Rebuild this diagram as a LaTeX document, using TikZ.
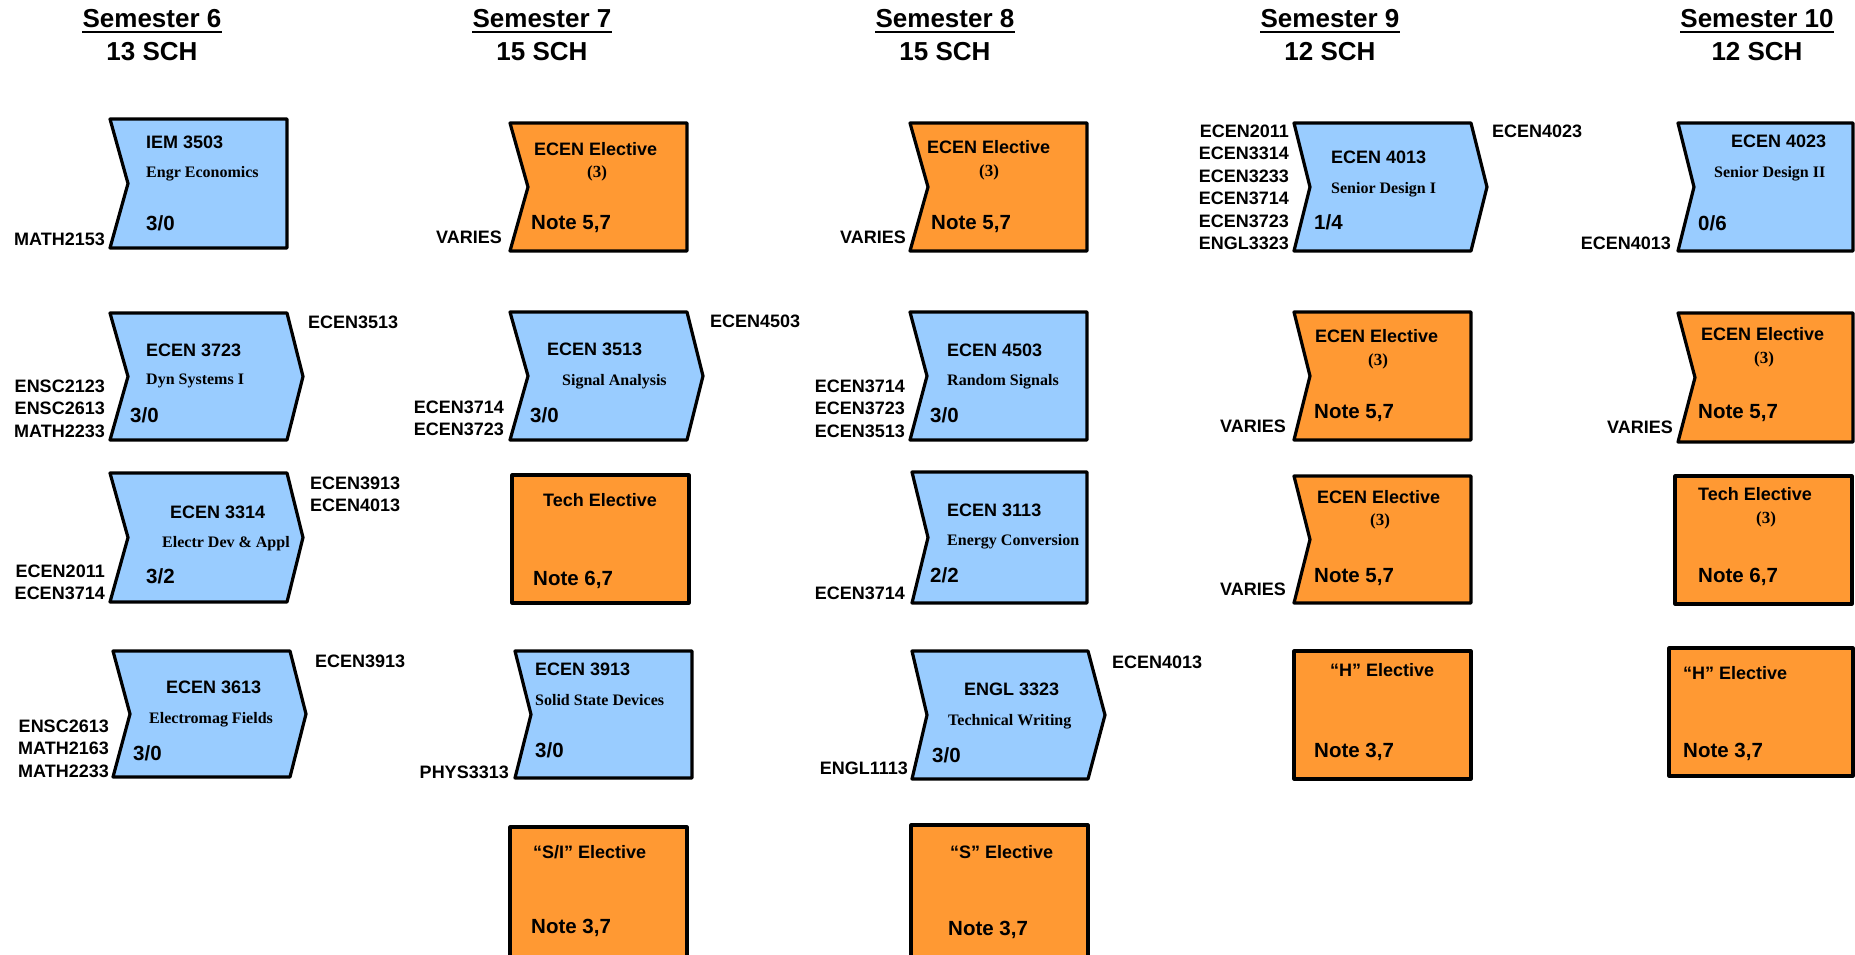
\documentclass[tikz,border=0pt]{standalone}
\usepackage{fontspec}
\setmainfont{Liberation Sans}
\newfontfamily\serifb{Liberation Serif}
\definecolor{cblue}{HTML}{99CCFF}
\definecolor{corange}{HTML}{FF9933}
\tikzset{
  boxline/.style={draw=black, line width=3.2pt, line join=round},
  txtlab/.style={font=\fontsize{18}{22}\selectfont\bfseries, inner sep=0pt},
  txtdesc/.style={font=\serifb\fontsize{16}{18}\selectfont\bfseries, inner sep=0pt},
  txtcr/.style={font=\serifb\fontsize{17}{19}\selectfont\bfseries, inner sep=0pt},
  txthrs/.style={font=\fontsize{20.5}{24}\selectfont\bfseries, inner sep=0pt},
  txttitle/.style={font=\fontsize{26}{30}\selectfont\bfseries, inner sep=0pt},
}
% name, x1, y1, x2, y2, notch, tip, colour
\newcommand\cbox[8]{%
  \path[boxline, fill=#8] (#2,#3) -- (#4,#3) -- ({#4+#7},{(#3+#5)/2}) -- (#4,#5) -- (#2,#5) -- ({#2+#6},{(#3+#5)/2}) -- cycle;
  \coordinate (#1) at ({(#2+#4)/2},{(#3+#5)/2});}
% prefix, x, first baseline, list
\newcommand\prereqs[4]{%
  \foreach \t [count=\i] in {#4} \node[txtlab, anchor=base east] (#1-\i) at (#2,{#3+22.5*(\i-1)}) {\t};}
\newcommand\postreqs[4]{%
  \foreach \t [count=\i] in {#4} \node[txtlab, anchor=base west] (#1-\i) at (#2,{#3+22.5*(\i-1)}) {\t};}
% prefix, centre x, semester, SCH
\newcommand\semtitle[4]{%
  \node[txttitle, anchor=base] (#1) at (#2,27) {Semester #3};
  \draw[line width=2pt] ([yshift=-5pt]#1.base west) -- ([yshift=-5pt]#1.base east);
  \node[txttitle, anchor=base] (#1-sch) at (#2,60) {#4 SCH};}
\begin{document}
\begin{tikzpicture}[x=1pt, y=-1pt]
\useasboundingbox[fill=white] (0,0) rectangle (1855,954);

% titles
\semtitle{t6}{152}{6}{13}
\semtitle{t7}{542}{7}{15}
\semtitle{t8}{945}{8}{15}
\semtitle{t9}{1330}{9}{12}
\semtitle{t10}{1757}{10}{12}

% ---------------- Semester 6
\cbox{A}{110}{119}{287}{248}{18}{0}{cblue}
\node[txtlab, anchor=base west] (A-code) at (146,148) {IEM 3503};
\node[txtdesc, anchor=base west] (A-desc) at (146,177) {Engr Economics};
\node[txthrs, anchor=base west] (A-hrs) at (146,230) {3/0};
\prereqs{A-pre}{105}{245}{MATH2153}

\cbox{B}{110}{313}{287}{440}{18}{16}{cblue}
\node[txtlab, anchor=base west] (B-code) at (146,356) {ECEN 3723};
\node[txtdesc, anchor=base west] (B-desc) at (146,384) {Dyn Systems I};
\node[txthrs, anchor=base west] (B-hrs) at (130,422) {3/0};
\prereqs{B-pre}{105}{392}{ENSC2123,ENSC2613,MATH2233}
\postreqs{B-post}{308}{328}{ECEN3513}

\cbox{C}{110}{473}{287}{602}{18}{16}{cblue}
\node[txtlab, anchor=base west] (C-code) at (170,518) {ECEN 3314};
\node[txtdesc, anchor=base west] (C-desc) at (162,547) {Electr Dev \& Appl};
\node[txthrs, anchor=base west] (C-hrs) at (146,583) {3/2};
\prereqs{C-pre}{105}{577}{ECEN2011,ECEN3714}
\postreqs{C-post}{310}{489}{ECEN3913,ECEN4013}

\cbox{D}{113}{651}{290}{777}{17}{16}{cblue}
\node[txtlab, anchor=base west] (D-code) at (166,693) {ECEN 3613};
\node[txtdesc, anchor=base west] (D-desc) at (149,723) {Electromag Fields};
\node[txthrs, anchor=base west] (D-hrs) at (133,760) {3/0};
\prereqs{D-pre}{109}{732}{ENSC2613,MATH2163,MATH2233}
\postreqs{D-post}{315}{667}{ECEN3913}

% ---------------- Semester 7
\cbox{E}{510}{123}{687}{251}{18}{0}{corange}
\node[txtlab, anchor=base west] (E-code) at (534,155) {ECEN Elective};
\node[txtcr, anchor=base] (E-cr) at (597,177) {(3)};
\node[txthrs, anchor=base west] (E-note) at (531,229) {Note 5,7};
\prereqs{E-pre}{502}{243}{VARIES}

\cbox{F}{510}{312}{687}{440}{18}{16}{cblue}
\node[txtlab, anchor=base west] (F-code) at (547,355) {ECEN 3513};
\node[txtdesc, anchor=base west] (F-desc) at (562,385) {Signal Analysis};
\node[txthrs, anchor=base west] (F-hrs) at (530,422) {3/0};
\prereqs{F-pre}{504}{413}{ECEN3714,ECEN3723}
\postreqs{F-post}{710}{327}{ECEN4503}

\cbox{G}{512}{475}{689}{603}{0}{0}{corange}
\node[txtlab, anchor=base west] (G-code) at (543,506) {Tech Elective};
\node[txthrs, anchor=base west] (G-note) at (533,585) {Note 6,7};

\cbox{H}{515}{651}{692}{778}{16}{0}{cblue}
\node[txtlab, anchor=base west] (H-code) at (535,675) {ECEN 3913};
\node[txtdesc, anchor=base west] (H-desc) at (535,705) {Solid State Devices};
\node[txthrs, anchor=base west] (H-hrs) at (535,757) {3/0};
\prereqs{H-pre}{509}{778}{PHYS3313}

\cbox{I}{510}{827}{687}{975}{0}{0}{corange}
\node[txtlab, anchor=base west] (I-code) at (533,858) {“S/I” Elective};
\node[txthrs, anchor=base west] (I-note) at (531,933) {Note 3,7};

% ---------------- Semester 8
\cbox{J}{910}{123}{1087}{251}{18}{0}{corange}
\node[txtlab, anchor=base west] (J-code) at (927,153) {ECEN Elective};
\node[txtcr, anchor=base] (J-cr) at (989,176) {(3)};
\node[txthrs, anchor=base west] (J-note) at (931,229) {Note 5,7};
\prereqs{J-pre}{906}{243}{VARIES}

\cbox{K}{910}{312}{1087}{440}{17}{0}{cblue}
\node[txtlab, anchor=base west] (K-code) at (947,356) {ECEN 4503};
\node[txtdesc, anchor=base west] (K-desc) at (947,385) {Random Signals};
\node[txthrs, anchor=base west] (K-hrs) at (930,422) {3/0};
\prereqs{K-pre}{905}{392}{ECEN3714,ECEN3723,ECEN3513}

\cbox{L}{912}{472}{1087}{603}{16}{0}{cblue}
\node[txtlab, anchor=base west] (L-code) at (947,516) {ECEN 3113};
\node[txtdesc, anchor=base west] (L-desc) at (947,545) {Energy Conversion};
\node[txthrs, anchor=base west] (L-hrs) at (930,582) {2/2};
\prereqs{L-pre}{905}{599}{ECEN3714}

\cbox{M}{912}{651}{1088}{779}{15}{17}{cblue}
\node[txtlab, anchor=base west] (M-code) at (964,695) {ENGL 3323};
\node[txtdesc, anchor=base west] (M-desc) at (948,725) {Technical Writing};
\node[txthrs, anchor=base west] (M-hrs) at (932,762) {3/0};
\prereqs{M-pre}{908}{774}{ENGL1113}
\postreqs{M-post}{1112}{668}{ECEN4013}

\cbox{N}{911}{825}{1088}{975}{0}{0}{corange}
\node[txtlab, anchor=base west] (N-code) at (950,858) {“S” Elective};
\node[txthrs, anchor=base west] (N-note) at (948,935) {Note 3,7};

% ---------------- Semester 9
\cbox{O}{1294}{123}{1471}{251}{16}{16}{cblue}
\node[txtlab, anchor=base west] (O-code) at (1331,163) {ECEN 4013};
\node[txtdesc, anchor=base west] (O-desc) at (1331,193) {Senior Design I};
\node[txthrs, anchor=base west] (O-hrs) at (1314,229) {1/4};
\prereqs{O-pre}{1289}{137}{ECEN2011,ECEN3314,ECEN3233,ECEN3714,ECEN3723,ENGL3323}
\postreqs{O-post}{1492}{137}{ECEN4023}

\cbox{P}{1294}{312}{1471}{440}{16}{0}{corange}
\node[txtlab, anchor=base west] (P-code) at (1315,342) {ECEN Elective};
\node[txtcr, anchor=base] (P-cr) at (1378,365) {(3)};
\node[txthrs, anchor=base west] (P-note) at (1314,418) {Note 5,7};
\prereqs{P-pre}{1286}{432}{VARIES}

\cbox{Q}{1294}{476}{1471}{603}{16}{0}{corange}
\node[txtlab, anchor=base west] (Q-code) at (1317,503) {ECEN Elective};
\node[txtcr, anchor=base] (Q-cr) at (1380,525) {(3)};
\node[txthrs, anchor=base west] (Q-note) at (1314,582) {Note 5,7};
\prereqs{Q-pre}{1286}{595}{VARIES}

\cbox{R}{1294}{651}{1471}{779}{0}{0}{corange}
\node[txtlab, anchor=base west] (R-code) at (1330,676) {“H” Elective};
\node[txthrs, anchor=base west] (R-note) at (1314,757) {Note 3,7};

% ---------------- Semester 10
\cbox{S}{1678}{123}{1853}{251}{16}{0}{cblue}
\node[txtlab, anchor=base west] (S-code) at (1731,147) {ECEN 4023};
\node[txtdesc, anchor=base west] (S-desc) at (1714,177) {Senior Design II};
\node[txthrs, anchor=base west] (S-hrs) at (1698,230) {0/6};
\prereqs{S-pre}{1671}{249}{ECEN4013}

\cbox{T}{1678}{313}{1853}{442}{17}{0}{corange}
\node[txtlab, anchor=base west] (T-code) at (1701,340) {ECEN Elective};
\node[txtcr, anchor=base] (T-cr) at (1764,363) {(3)};
\node[txthrs, anchor=base west] (T-note) at (1698,418) {Note 5,7};
\prereqs{T-pre}{1673}{433}{VARIES}

\cbox{U}{1675}{476}{1852}{604}{0}{0}{corange}
\node[txtlab, anchor=base west] (U-code) at (1698,500) {Tech Elective};
\node[txtcr, anchor=base] (U-cr) at (1766,523) {(3)};
\node[txthrs, anchor=base west] (U-note) at (1698,582) {Note 6,7};

\cbox{V}{1669}{648}{1853}{776}{0}{0}{corange}
\node[txtlab, anchor=base west] (V-code) at (1683,679) {“H” Elective};
\node[txthrs, anchor=base west] (V-note) at (1683,757) {Note 3,7};
\end{tikzpicture}
\end{document}
